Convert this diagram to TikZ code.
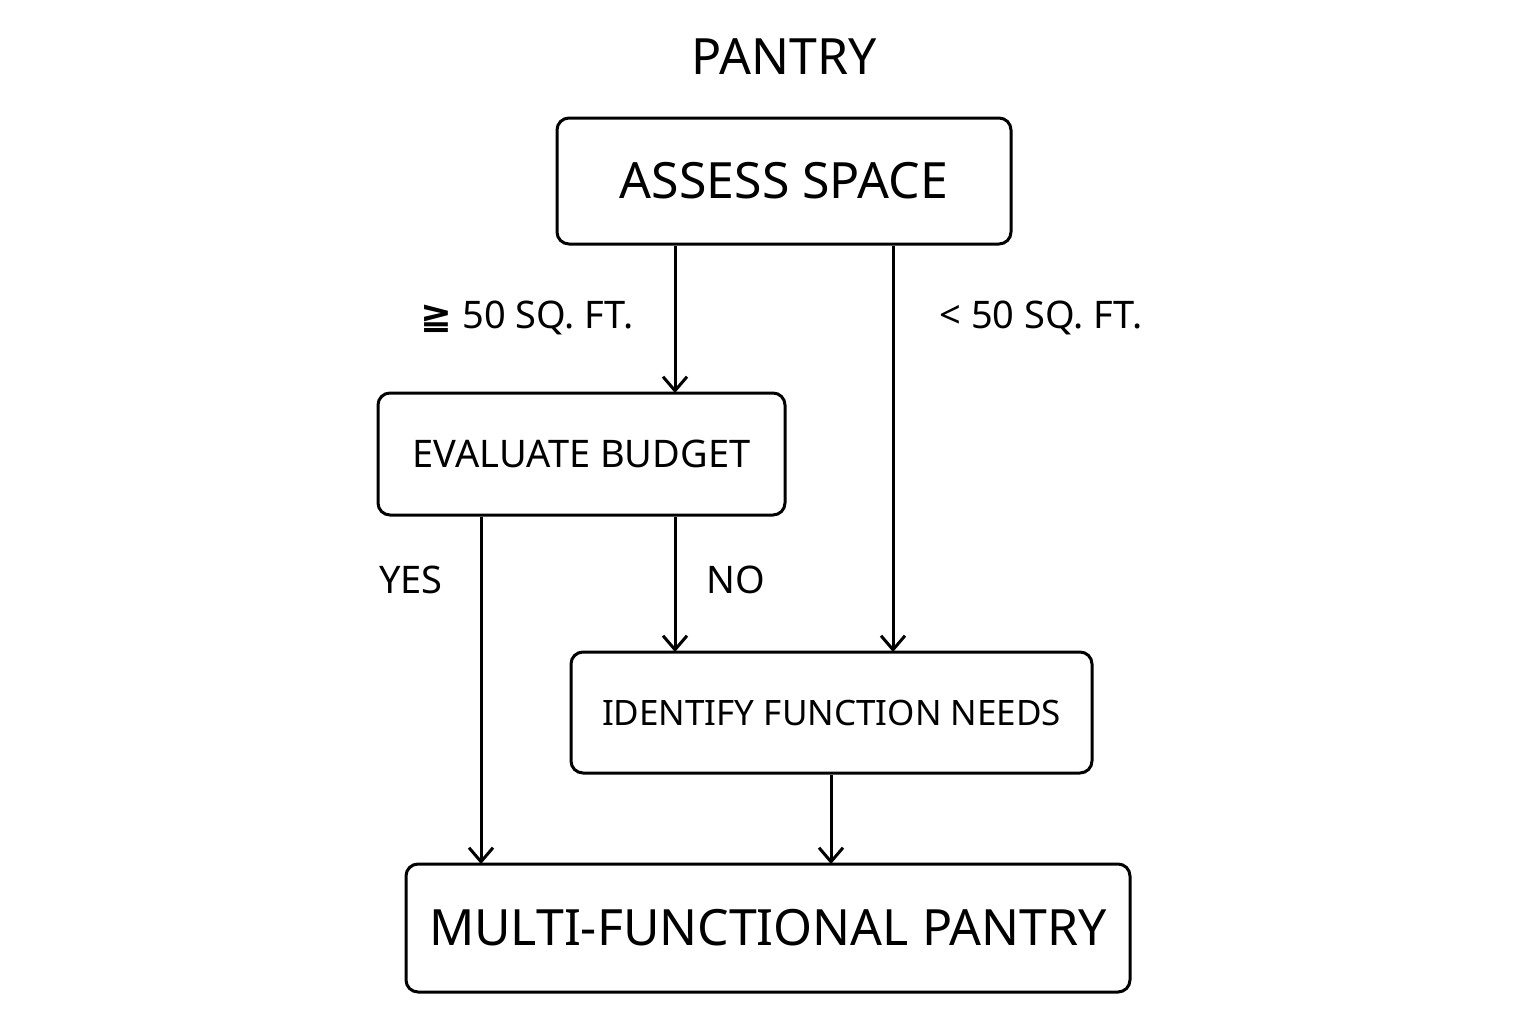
\documentclass[tikz,border=0pt]{standalone}
\usepackage{fontspec}
\setmainfont{Noto Sans}
\newfontfamily\symf{DejaVu Sans}
\usetikzlibrary{arrows.meta}
\begin{document}
\begin{tikzpicture}[x=0.5pt,y=-0.5pt,
  box/.style={draw,line width=1.5pt,rounded corners=6pt,inner sep=0pt},
  arr/.style={line width=1.5pt,-{Straight Barb[length=7pt,width=12pt,line width=1.5pt]}},
  lab/.style={font=\fontsize{19}{22}\selectfont\bfseries}]
\useasboundingbox (0,0) rectangle (1536,1024);
\node[font=\fontsize{25}{30}\selectfont\bfseries] (title) at (784,57) {PANTRY};
\node[box,minimum width=227pt,minimum height=63pt] (a) at (784,181) {\fontsize{25}{30}\selectfont\bfseries ASSESS SPACE};
\node[box,minimum width=203.5pt,minimum height=61pt] (e) at (581.5,454) {\fontsize{19}{22}\selectfont\bfseries EVALUATE BUDGET};
\node[box,minimum width=260.5pt,minimum height=60.5pt] (i) at (831.5,712.5) {\fontsize{17.5}{22}\selectfont\bfseries IDENTIFY FUNCTION NEEDS};
\node[box,minimum width=362pt,minimum height=64pt] (m) at (768,928) {\fontsize{25}{30}\selectfont\bfseries MULTI-FUNCTIONAL PANTRY};
\coordinate (e1) at (675,393);
\coordinate (i1) at (675,652);
\coordinate (i2) at (893,652);
\coordinate (m1) at (481,864);
\coordinate (m2) at (831,864);
\draw[arr] (a.south -| e1) -- (e1);
\draw[arr] (a.south -| i2) -- (i2);
\draw[arr] (e.south -| m1) -- (m1);
\draw[arr] (e.south -| i1) -- (i1);
\draw[arr] (i.south -| m2) -- (m2);
\node[lab] (l1) at (527,318) {{\symf ≧} 50 SQ. FT.};
\node[lab] (l2) at (1041,318) {< 50 SQ. FT.};
\node[lab] (l3) at (411,580) {YES};
\node[lab] (l4) at (736,580) {NO};
\end{tikzpicture}
\end{document}
